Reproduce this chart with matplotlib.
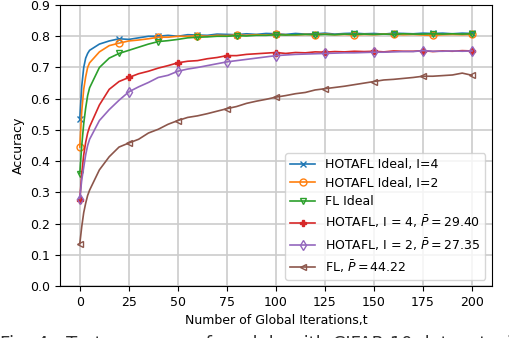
import matplotlib
matplotlib.use("Agg")
import matplotlib.pyplot as plt

iters = [0, 1, 2, 3, 4] + list(range(5, 201, 5))

hotafl_ideal_4 = [0.535, 0.64, 0.70, 0.73, 0.745, 0.755, 0.775, 0.785, 0.792, 0.79,
                  0.795, 0.80, 0.80, 0.803, 0.80, 0.805, 0.804, 0.803, 0.807, 0.806,
                  0.805, 0.808, 0.806, 0.809, 0.808, 0.806, 0.809, 0.807, 0.808, 0.81,
                  0.807, 0.809, 0.81, 0.808, 0.809, 0.807, 0.81, 0.809, 0.808, 0.81,
                  0.809, 0.81, 0.808, 0.81, 0.809]
hotafl_ideal_2 = [0.445, 0.56, 0.63, 0.67, 0.70, 0.715, 0.75, 0.77, 0.778, 0.785,
                  0.788, 0.792, 0.797, 0.797, 0.80, 0.80, 0.802, 0.80, 0.803, 0.802,
                  0.804, 0.803, 0.805, 0.804, 0.806, 0.805, 0.804, 0.806, 0.805, 0.807,
                  0.805, 0.806, 0.804, 0.806, 0.805, 0.807, 0.806, 0.805, 0.806, 0.804,
                  0.803, 0.805, 0.806, 0.805, 0.806]
fl_ideal = [0.36, 0.45, 0.52, 0.57, 0.61, 0.635, 0.70, 0.73, 0.745, 0.755,
            0.765, 0.775, 0.783, 0.786, 0.79, 0.795, 0.797, 0.798, 0.80, 0.80,
            0.802, 0.801, 0.803, 0.803, 0.805, 0.804, 0.805, 0.806, 0.805, 0.806,
            0.805, 0.807, 0.806, 0.807, 0.806, 0.807, 0.806, 0.808, 0.807, 0.807,
            0.808, 0.807, 0.808, 0.807, 0.808]
hotafl_4 = [0.275, 0.36, 0.42, 0.46, 0.49, 0.51, 0.58, 0.63, 0.655, 0.668,
            0.68, 0.688, 0.698, 0.706, 0.715, 0.72, 0.722, 0.728, 0.732, 0.738,
            0.738, 0.742, 0.744, 0.746, 0.748, 0.745, 0.748, 0.747, 0.75, 0.749,
            0.751, 0.75, 0.752, 0.751, 0.752, 0.75, 0.753, 0.752, 0.752, 0.754,
            0.751, 0.753, 0.752, 0.754, 0.753]
hotafl_2 = [0.28, 0.34, 0.38, 0.42, 0.45, 0.47, 0.53, 0.565, 0.595, 0.622,
            0.638, 0.652, 0.668, 0.675, 0.688, 0.695, 0.70, 0.706, 0.712, 0.718,
            0.722, 0.726, 0.73, 0.734, 0.738, 0.74, 0.742, 0.743, 0.744, 0.745,
            0.746, 0.747, 0.747, 0.748, 0.749, 0.749, 0.75, 0.751, 0.751, 0.754,
            0.752, 0.752, 0.753, 0.752, 0.753]
fl = [0.135, 0.19, 0.235, 0.265, 0.29, 0.307, 0.372, 0.414, 0.445, 0.458,
      0.47, 0.49, 0.502, 0.518, 0.53, 0.54, 0.545, 0.552, 0.56, 0.568,
      0.575, 0.585, 0.592, 0.598, 0.605, 0.61, 0.616, 0.62, 0.628, 0.632,
      0.636, 0.64, 0.645, 0.65, 0.655, 0.66, 0.662, 0.665, 0.668, 0.672,
      0.672, 0.674, 0.676, 0.682, 0.675]

labels = ["HOTAFL Ideal, I=4", "HOTAFL Ideal, I=2", "FL Ideal",
          r"HOTAFL, I = 4, $\bar{P} = 29.40$", r"HOTAFL, I = 2, $\bar{P} = 27.35$",
          r"FL, $\bar{P} = 44.22$"]

every20 = [i for i, t in enumerate(iters) if t % 20 == 0]
every25 = [i for i, t in enumerate(iters) if t % 25 == 0]

fig = plt.figure(figsize=(5.1, 3.38), dpi=100)
ax = fig.add_axes([0.118, 0.154, 0.846, 0.831])

styles = [
    (hotafl_ideal_4, "C0", "x", every20, {}),
    (hotafl_ideal_2, "C1", "o", every20, {"mfc": "none"}),
    (fl_ideal, "C2", "v", every20, {"mfc": "none"}),
    (hotafl_4, "C3", "P", every25, {}),
    (hotafl_2, "C4", "d", every25, {"mfc": "none"}),
    (fl, "C5", "<", every25, {"mfc": "none"}),
]
for (vals, col, mk, me, kw), lab in zip(styles, labels):
    ax.plot(iters, vals, color=col, marker=mk, markevery=me, markersize=5,
            linewidth=1.2, label=lab, **kw)

ax.set_xlim(-10, 210)
ax.set_ylim(0, 0.9)
ax.set_xticks(range(0, 201, 25))
ax.set_yticks([i / 10 for i in range(10)])
ax.tick_params(labelsize=9)
ax.grid(True, color="#cccccc", linewidth=1.2)
ax.set_xlabel("Number of Global Iterations,t", fontsize=9)
ax.set_ylabel("Accuracy", fontsize=9)
ax.legend(loc="lower right", fontsize=9, handlelength=2, labelspacing=0.45)

# caption of the source page, cut off by the bottom edge
fig.text(0.0, -0.034, "Fig. 4:  Test accuracy of models with CIFAR-10 dataset with",
         fontsize=13, va="baseline", ha="left", color="#333333")

fig.savefig("out.png", dpi=100)
